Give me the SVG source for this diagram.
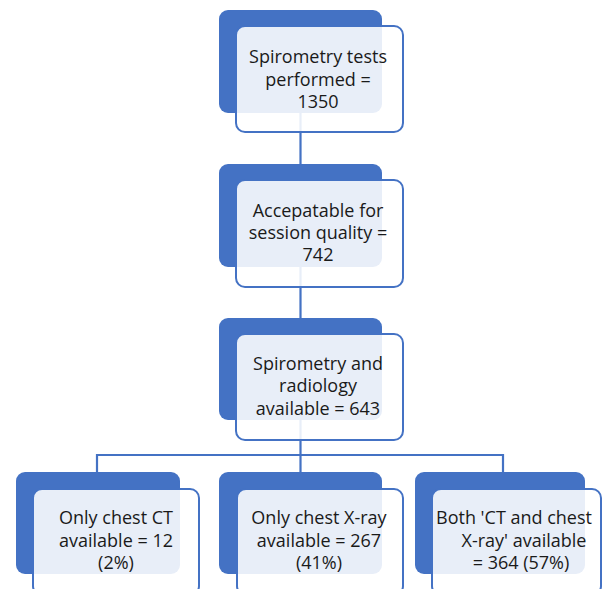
<svg xmlns="http://www.w3.org/2000/svg" width="603" height="589" viewBox="0 0 603 589">
<style>
.back{fill:#4472C4;}
.front{fill:#FFFFFF;fill-opacity:0.88;stroke:#4472C4;stroke-width:2;}
.conn{fill:none;stroke:#4472C4;stroke-width:2.2;}
text{font-family:"Open Sans","Liberation Sans",sans-serif;font-size:18px;fill:#1a1a1a;text-anchor:middle;}
</style>
<rect width="603" height="589" fill="#FFFFFF"/>
<g id="connectors">
<line class="conn" x1="300.5" y1="113" x2="300.5" y2="165"/>
<line class="conn" x1="300.5" y1="267" x2="300.5" y2="319"/>
<line class="conn" x1="300.5" y1="420" x2="300.5" y2="455"/>
<polyline class="conn" points="97,472 97,455 503,455 503,472"/>
<line class="conn" x1="300.5" y1="455" x2="300.5" y2="472"/>
</g>
<g id="n1">
<rect class="back" x="219" y="10" width="163" height="103" rx="9"/>
<rect class="front" x="236" y="26" width="167" height="106" rx="9"/>
<text x="318" y="63">Spirometry tests</text>
<text x="318" y="86">performed =</text>
<text x="318" y="108">1350</text>
</g>
<g id="n2">
<rect class="back" x="219" y="164" width="163" height="103" rx="9"/>
<rect class="front" x="236" y="180" width="167" height="107" rx="9"/>
<text x="318" y="217">Accepatable for</text>
<text x="318" y="239">session quality =</text>
<text x="318" y="261">742</text>
</g>
<g id="n3">
<rect class="back" x="219" y="318" width="163" height="102" rx="9"/>
<rect class="front" x="236" y="334" width="167" height="106" rx="9"/>
<text x="318" y="370">Spirometry and</text>
<text x="318" y="392">radiology</text>
<text x="318" y="415">available = 643</text>
</g>
<g id="n4">
<rect class="back" x="16" y="472" width="164" height="102" rx="9"/>
<rect class="front" x="33" y="489" width="166" height="106" rx="9"/>
<text x="116" y="524">Only chest CT</text>
<text x="116" y="547">available = 12</text>
<text x="116" y="569">(2%)</text>
</g>
<g id="n5">
<rect class="back" x="219" y="472" width="163" height="102" rx="9"/>
<rect class="front" x="237" y="489" width="166" height="106" rx="9"/>
<text x="319" y="524">Only chest X-ray</text>
<text x="319" y="547">available = 267</text>
<text x="319" y="569">(41%)</text>
</g>
<g id="n6">
<rect class="back" x="415" y="472" width="170" height="102" rx="9"/>
<rect class="front" x="432" y="489" width="169" height="106" rx="9"/>
<text x="514" y="524">Both 'CT and chest</text>
<text x="524" y="547">X-ray' available</text>
<text x="521" y="569">= 364 (57%)</text>
</g>
</svg>
